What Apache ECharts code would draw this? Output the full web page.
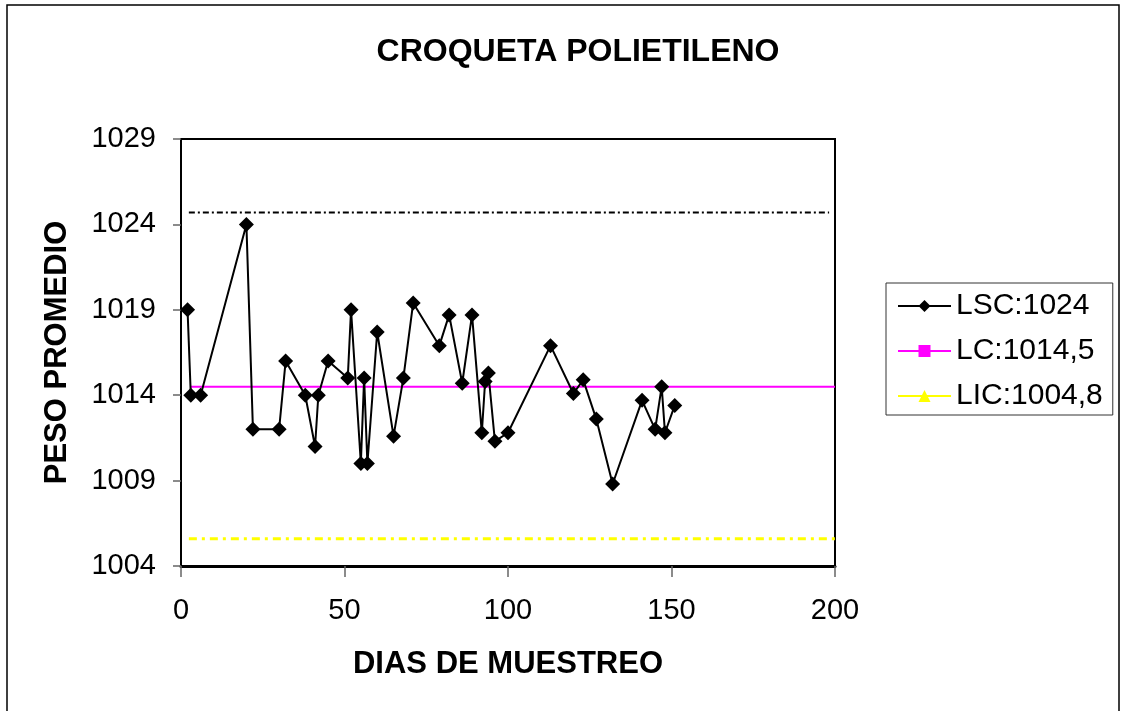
<!DOCTYPE html>
<html>
<head>
<meta charset="utf-8">
<script src="https://cdn.jsdelivr.net/npm/echarts@6/dist/echarts.min.js"></script>
<style>
html,body{margin:0;padding:0;background:#fff;}
#chart{width:1125px;height:711px;}
</style>
</head>
<body>
<div id="chart"></div>
<script>
// Data
const dias = [2,3,6,20,22,30,32,38,41,42,45,51,52,55,56,57,60,65,68,71,79,82,86,89,92,93,94,96,100,113,120,123,127,132,141,145,147,148,151];
const peso = [1019,1014,1014,1024,1012,1012,1016,1014,1011,1014,1016,1015,1019,1010,1015,1010,1017.7,1011.6,1015,1019.4,1016.9,1018.7,1014.7,1018.7,1011.8,1014.8,1015.3,1011.3,1011.8,1016.9,1014.1,1014.9,1012.6,1008.8,1013.7,1012,1014.5,1011.8,1013.4];
const seriesNames = ['LSC:1024','LC:1014,5','LIC:1004,8'];
const lcX = [3,200];
const lcY = [1014.5,1014.5];
const upperX = [2.4,198.2];
const upperY = [1024.7,1024.7];
const lowerX = [2.4,202.4];
const lowerY = [1005.6,1005.6];
const xTicks = {min:0,max:200,interval:50};
const yTicks = {min:1004,max:1029,interval:5};
const titleText = 'CROQUETA POLIETILENO';
const xName = 'DIAS DE MUESTREO';
const yName = 'PESO PROMEDIO';

const zip = (a,b) => a.map((v,i)=>[v,b[i]]);
const F = "'Liberation Sans', Arial, sans-serif";

const chart = echarts.init(document.getElementById('chart'), null, {renderer:'canvas'});
chart.setOption({
  animation:false,
  backgroundColor:'#fff',
  graphic:[{type:'rect',shape:{x:7,y:5,width:1112,height:730},style:{fill:'none',stroke:'#000',lineWidth:1.5},silent:true,z:-1}],
  title:{text:titleText,left:573,top:31,textAlign:'center',
    textStyle:{fontFamily:F,fontSize:32,fontWeight:'bold',color:'#000'}},
  grid:{left:181,right:290,top:139,bottom:145,show:true,borderColor:'#000',borderWidth:2,backgroundColor:'#fff'},
  legend:{data:seriesNames,orient:'vertical',left:886,top:283,padding:[8,10,4,11],
    itemWidth:53,itemHeight:15,itemGap:15,borderColor:'#333',borderWidth:1,
    textStyle:{fontFamily:F,fontSize:30,color:'#000'}},
  xAxis:{type:'value',min:xTicks.min,max:xTicks.max,interval:xTicks.interval,
    name:xName,nameLocation:'middle',nameGap:83,
    nameTextStyle:{fontFamily:F,fontSize:31,fontWeight:'bold',color:'#000'},
    axisLine:{show:true,onZero:false,lineStyle:{color:'#000',width:3}},
    axisTick:{show:true,length:11,lineStyle:{color:'#666',width:1.5}},
    axisLabel:{margin:30,fontFamily:F,fontSize:29,color:'#000',formatter:v=>String(v)},
    splitLine:{show:false}},
  yAxis:{type:'value',min:yTicks.min,max:yTicks.max,interval:yTicks.interval,
    name:yName,nameLocation:'middle',nameGap:108,
    nameTextStyle:{fontFamily:F,fontSize:31,fontWeight:'bold',color:'#000'},
    axisLine:{show:true,onZero:false,lineStyle:{color:'#000',width:2}},
    axisTick:{show:true,length:8,lineStyle:{color:'#666',width:1.5}},
    axisLabel:{margin:25,fontFamily:F,fontSize:29,color:'#000',formatter:v=>String(v)},
    splitLine:{show:false}},
  series:[
    {name:seriesNames[0],type:'line',data:zip(dias,peso),symbol:'diamond',symbolSize:15,
      itemStyle:{color:'#000'},lineStyle:{color:'#000',width:2},z:5},
    {name:seriesNames[1],type:'line',data:zip(lcX,lcY),symbol:'rect',showSymbol:false,symbolSize:12,
      itemStyle:{color:'#ff00ff'},lineStyle:{color:'#ff00ff',width:2},z:3},
    {name:seriesNames[2],type:'line',data:[],symbol:'triangle',symbolSize:12,
      itemStyle:{color:'#ffff00'},lineStyle:{color:'#ffff00',width:2}},
    {name:'upper',type:'line',data:zip(upperX,upperY),symbol:'none',clip:false,
      lineStyle:{color:'#000',width:2,type:[6,3,2,3]},z:2},
    {name:'lower',type:'line',data:zip(lowerX,lowerY),symbol:'none',clip:false,
      lineStyle:{color:'#ffff00',width:3,type:[8,5,3,5]},z:2}
  ]
});
</script>
</body>
</html>
